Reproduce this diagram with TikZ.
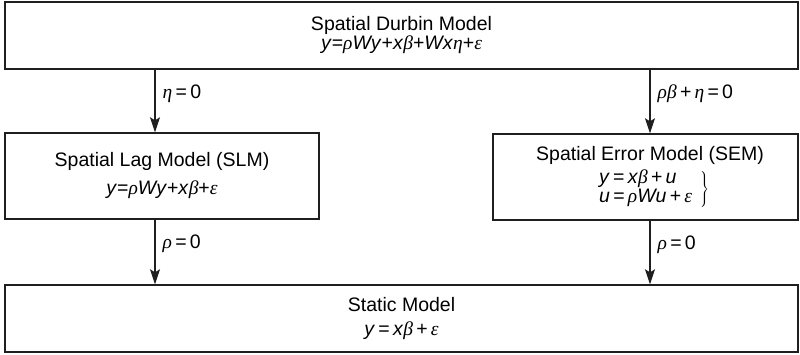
\documentclass[tikz,border=0pt]{standalone}
\usepackage{fontspec}
\setmainfont{Liberation Sans}
\newfontfamily\gkfont{Liberation Serif}
\usetikzlibrary{arrows.meta}
\newcommand\mi[1]{\textit{#1}}
\newcommand\gk[1]{{\gkfont\itshape #1}}
\begin{document}
\begin{tikzpicture}[x=1pt,y=-1pt,
  box/.style={draw=black!88, line width=1.4pt, rectangle, inner sep=0pt, align=center,
    font=\fontsize{19.5}{20}\selectfont},
  arr/.style={draw=black!88, line width=1.4pt, -{Stealth[length=15pt,width=10pt,inset=3pt]}},
  lab/.style={right, inner sep=0pt, xshift=7pt, font=\fontsize{19.5}{20}\selectfont}]
\useasboundingbox (0,0) rectangle (800,355);
\node[box, minimum width=793pt, minimum height=67pt] (sdm) at (401.5,35.5)
  {Spatial Durbin Model\\[-1pt] \mi{y}=\gk{ρ}\mi{Wy}+\mi{x}\gk{β}+\mi{Wx}\gk{η}+\gk{ε}};
\node[box, minimum width=314pt, minimum height=86pt] (slm) at (162,176)
  {Spatial Lag Model (SLM)\\[8pt] \mi{y}=\gk{ρ}\mi{Wy}+\mi{x}\gk{β}+\gk{ε}};
\node[box, minimum width=305pt, minimum height=86pt] (sem) at (645.5,177)
  {\hspace*{9pt}Spatial Error Model (SEM)\\[5pt]
   \hspace*{16pt}\renewcommand\arraystretch{0.9}$\left.\begin{tabular}{@{}l@{}}\mi{y}\,=\,\mi{x}\gk{β}\,+\,\mi{u}\\ \mi{u}\,=\,\gk{ρ}\mi{Wu}\,+\,\gk{ε}\end{tabular}\hspace{8pt}\right\}$};
\node[box, minimum width=793pt, minimum height=67pt] (sm) at (401.5,318.5)
  {Static Model\\[4pt] \mi{y}\,=\,\mi{x}\gk{β}\,+\,\gk{ε}};
\draw[arr] ([xshift=-7pt]sdm.south -| slm.north) -- node[lab, pos=0.38]{\gk{η}\,=\,0} ([xshift=-7pt]slm.north);
\draw[arr] ([xshift=4.5pt]sdm.south -| sem.north) -- node[lab, pos=0.38]{\gk{ρβ}\,+\,\gk{η}\,=\,0} ([xshift=4.5pt]sem.north);
\draw[arr] ([xshift=-7pt]slm.south) -- node[lab, pos=0.38]{\gk{ρ}\,=\,0} ([xshift=-7pt]sm.north -| slm.south);
\draw[arr] ([xshift=4.5pt]sem.south) -- node[lab, pos=0.38]{\gk{ρ}\,=\,0} ([xshift=4.5pt]sm.north -| sem.south);
\end{tikzpicture}
\end{document}
